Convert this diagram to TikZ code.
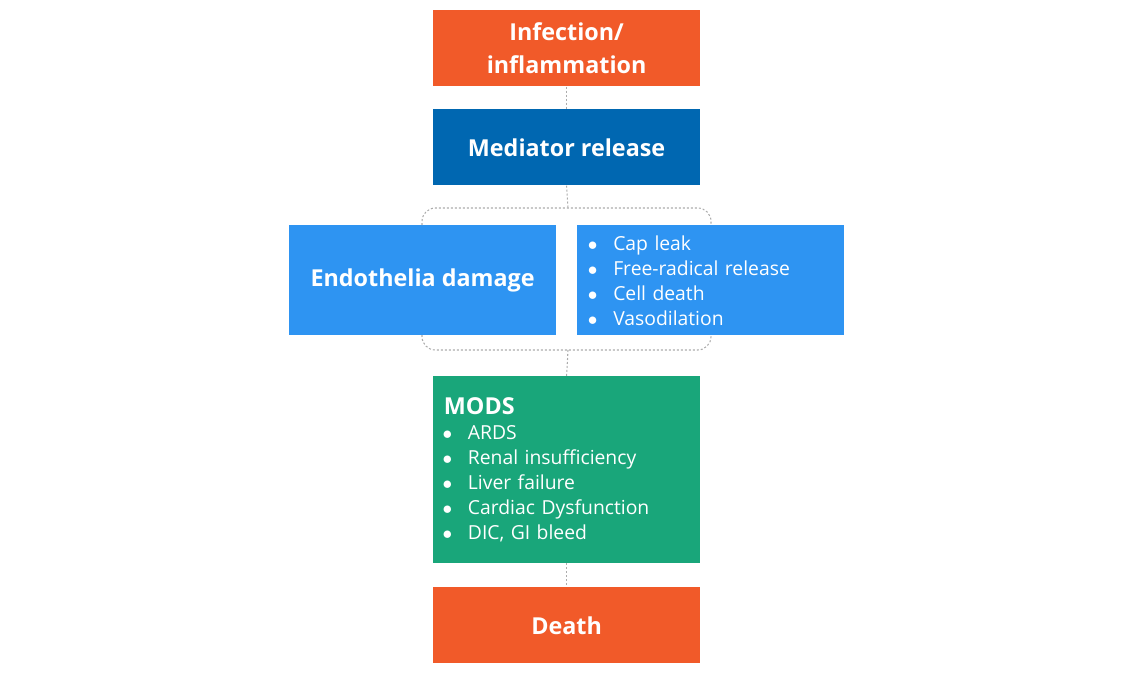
\documentclass[tikz,border=0pt]{standalone}
\usepackage{fontspec}
\setmainfont{Open Sans}
\usepackage{xcolor}

\definecolor{laranja}{HTML}{F15A29}
\definecolor{azulescuro}{HTML}{0067B1}
\definecolor{azulclaro}{HTML}{2E94F2}
\definecolor{verde}{HTML}{19A67A}

\newcommand{\marcador}{\makebox[18pt][l]{\hspace{-1pt}$\bullet$}}

\begin{document}
\begin{tikzpicture}[x=0.75pt,y=-0.75pt,
  caixa/.style={text=white, inner sep=0pt, anchor=north west, minimum width=200pt,
    font=\bfseries\fontsize{17.5}{24.75}\selectfont, align=center},
  lista/.style={caixa, inner xsep=9pt, text width=182pt, align=left,
    font=\fontsize{14.5}{18.75}\selectfont},
  ligacao/.style={draw=gray!65, line width=0.8pt, dash pattern=on 1.5pt off 1.5pt}] %estilos das caixas e das ligacoes pontilhadas

\useasboundingbox (0,0) rectangle (1132,678); %mesmas proporcoes da figura

%----------------------------------------------------
%Caixas principais (posicionadas pelo canto superior esquerdo)
%----------------------------------------------------
\node[caixa, fill=laranja, minimum height=57pt] (INF) at (433,10) {Infection/\\inflammation};
\node[caixa, fill=azulescuro, minimum height=57pt] (MED) at (433,109) {Mediator release};
\node[caixa, fill=azulclaro, minimum height=82.5pt] (END) at (289,225) {Endothelia damage};
\node[lista, fill=azulclaro, minimum height=82.5pt] (LST) at (577,225) {\marcador Cap leak\\\marcador Free-radical release\\\marcador Cell death\\\marcador Vasodilation};
\node[lista, fill=verde, minimum height=140pt, inner xsep=8pt, text width=184pt] (MODS) at (433,376) {{\bfseries\fontsize{17.5}{18.75}\selectfont MODS}\\\marcador ARDS\\\marcador Renal insufficiency\\\marcador Liver failure\\\marcador Cardiac Dysfunction\\\marcador DIC, GI bleed};
\node[caixa, fill=laranja, minimum height=57pt] (MOR) at (433,587) {Death};

%----------------------------------------------------
%Chaves pontilhadas em volta das duas caixas azuis claras
%----------------------------------------------------
\coordinate (CH1) at (568,208); %meio da chave de cima
\coordinate (CH1E) at (422,225);
\coordinate (CH1D) at (711,225);
\coordinate (CH2) at (568,350); %meio da chave de baixo
\coordinate (CH2E) at (422,335);
\coordinate (CH2D) at (711,335);

\draw[ligacao, rounded corners=10pt] (CH1E) |- (CH1) -| (CH1D);
\draw[ligacao, rounded corners=10pt] (CH2E) |- (CH2) -| (CH2D);

%----------------------------------------------------
%Ligacoes verticais
%----------------------------------------------------
\draw[ligacao] (INF.south) -- (MED.north);
\draw[ligacao] (MED.south) -- (CH1);
\draw[ligacao] (CH2) -- (MODS.north);
\draw[ligacao] (MODS.south) -- (MOR.north);

\end{tikzpicture}
\end{document}
